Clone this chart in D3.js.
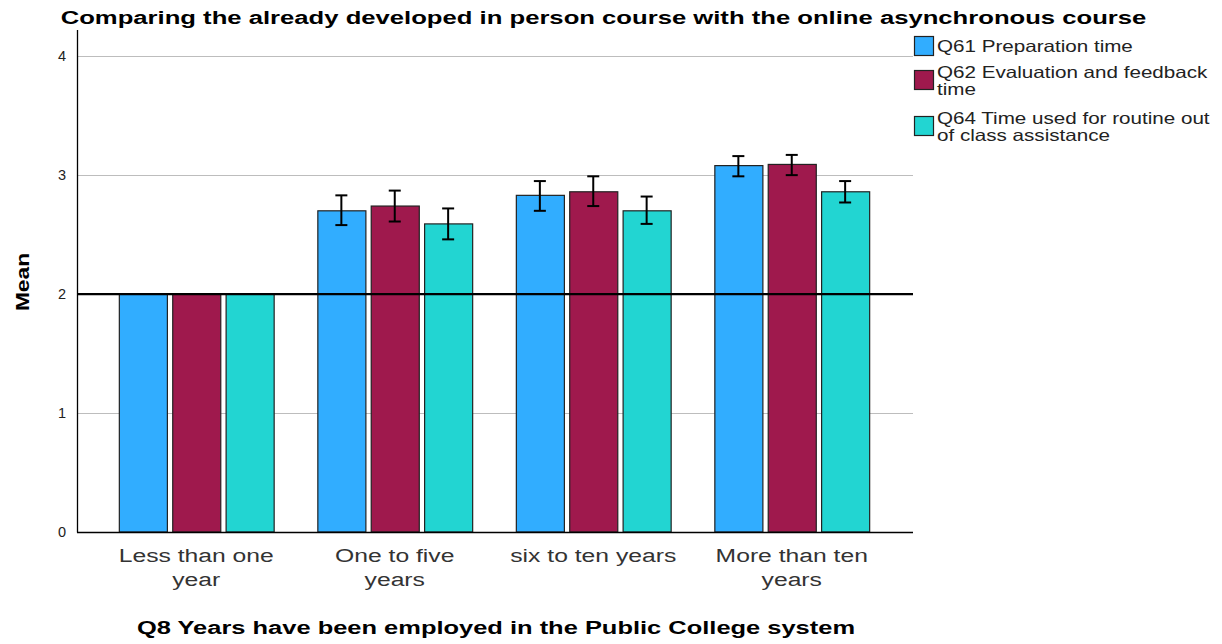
<!DOCTYPE html>
<html>
<head>
<meta charset="utf-8">
<script src="https://cdn.jsdelivr.net/npm/d3@7"></script>
<style>
  body { margin: 0; background: #fff; }
  text { font-family: "Liberation Sans", Arial, sans-serif; }
</style>
</head>
<body>
<svg width="1222" height="644"></svg>
<script>
// data
var categories = [["Less than one", "year"], ["One to five", "years"], ["six to ten years"], ["More than ten", "years"]];
var seriesNames = ["Q61 Preparation time", "Q62 Evaluation and feedback time", "Q64 Time used for routine out of class assistance"];
var legendLines = [["Q61 Preparation time"], ["Q62 Evaluation and feedback", "time"], ["Q64 Time used for routine out", "of class assistance"]];
var colors = ["#31adff", "#9f194d", "#22d5d2"];

var q61 = [2.0, 2.70, 2.83, 3.08];
var q62 = [2.0, 2.74, 2.86, 3.09];
var q64 = [2.0, 2.59, 2.70, 2.86];
var q61Lo = [null, 2.58, 2.70, 2.99], q61Hi = [null, 2.83, 2.95, 3.16];
var q62Lo = [null, 2.61, 2.74, 3.00], q62Hi = [null, 2.87, 2.99, 3.17];
var q64Lo = [null, 2.46, 2.59, 2.77], q64Hi = [null, 2.72, 2.82, 2.95];
var yTicks = [0, 1, 2, 3, 4];
var refValue = 2;

var series = [
  { name: seriesNames[0], values: q61, lo: q61Lo, hi: q61Hi },
  { name: seriesNames[1], values: q62, lo: q62Lo, hi: q62Hi },
  { name: seriesNames[2], values: q64, lo: q64Lo, hi: q64Hi }
];

var svg = d3.select("svg");
var pLeft = 77, pRight = 913, pTop = 30, pBottom = 532;

var y = d3.scaleLinear().domain([0, 4.22]).range([pBottom, pTop]);
var x = d3.scaleBand().domain(d3.range(categories.length)).range([97, 891]).paddingInner(0.22).paddingOuter(0.11);
var xs = d3.scaleBand().domain(d3.range(series.length)).range([0, x.bandwidth()]).paddingInner(0.1);

// text in the original is wider than the font, so stretch it a bit
function wideText(sel, cx, cy, sx, sy) {
  return sel.append("text").attr("transform", "translate(" + cx + "," + cy + ") scale(" + sx + "," + (sy || 1) + ")");
}

// gridlines
svg.append("g").selectAll("line")
  .data(yTicks.filter(function(t) { return t > 0 && t !== refValue; }))
  .enter().append("line")
  .attr("x1", pLeft).attr("x2", pRight)
  .attr("y1", function(d) { return Math.round(y(d)) + 0.5; })
  .attr("y2", function(d) { return Math.round(y(d)) + 0.5; })
  .attr("stroke", "#bdbdbd").attr("stroke-width", 1);

// bars
var groups = svg.append("g").selectAll("g")
  .data(series).enter().append("g");

groups.selectAll("rect")
  .data(function(s, si) { return s.values.map(function(v, i) { return { v: v, i: i, si: si }; }); })
  .enter().append("rect")
  .attr("x", function(d) { return x(d.i) + xs(d.si) + 0.5; })
  .attr("y", function(d) { return y(d.v); })
  .attr("width", xs.bandwidth())
  .attr("height", function(d) { return pBottom - y(d.v); })
  .attr("fill", function(d) { return colors[d.si]; })
  .attr("stroke", "#222").attr("stroke-width", 1.2);

// reference line
svg.append("line")
  .attr("x1", pLeft).attr("x2", pRight)
  .attr("y1", y(refValue)).attr("y2", y(refValue))
  .attr("stroke", "#000").attr("stroke-width", 2.2);

// error bars
var errs = [];
series.forEach(function(s, si) {
  s.values.forEach(function(v, i) {
    if (s.lo[i] != null) errs.push({ cx: x(i) + xs(si) + xs.bandwidth() / 2, lo: s.lo[i], hi: s.hi[i] });
  });
});
var eg = svg.append("g").attr("stroke", "#000").attr("stroke-width", 2);
errs.forEach(function(e) {
  eg.append("line").attr("x1", e.cx).attr("x2", e.cx).attr("y1", y(e.hi)).attr("y2", y(e.lo));
  eg.append("line").attr("x1", e.cx - 6).attr("x2", e.cx + 6).attr("y1", y(e.hi)).attr("y2", y(e.hi));
  eg.append("line").attr("x1", e.cx - 6).attr("x2", e.cx + 6).attr("y1", y(e.lo)).attr("y2", y(e.lo));
});

// axes
var yAxis = svg.append("g").attr("transform", "translate(" + pLeft + ",0)")
  .call(d3.axisLeft(y).tickValues(yTicks).tickSize(0).tickPadding(11).tickFormat(d3.format("d")));
yAxis.select(".domain").remove();
yAxis.selectAll("text").attr("font-size", 14.5).attr("fill", "#222").style("font-family", "'Liberation Sans', Arial, sans-serif");

svg.append("line").attr("x1", pLeft + 0.5).attr("x2", pLeft + 0.5).attr("y1", pTop).attr("y2", pBottom + 0.5)
  .attr("stroke", "#000").attr("stroke-width", 1.3);
svg.append("line").attr("x1", pLeft).attr("x2", pRight).attr("y1", pBottom + 0.5).attr("y2", pBottom + 0.5)
  .attr("stroke", "#000").attr("stroke-width", 1.3);

// category labels
categories.forEach(function(lines, i) {
  var t = wideText(svg, x(i) + x.bandwidth() / 2, 562, 1.3)
    .attr("text-anchor", "middle").attr("font-size", 19).attr("fill", "#333");
  lines.forEach(function(s, k) {
    t.append("tspan").attr("x", 0).attr("y", k * 24).text(s);
  });
});

// titles
wideText(svg, 603.5, 24, 1.35).attr("text-anchor", "middle")
  .attr("font-size", 19).attr("font-weight", "bold")
  .text("Comparing the already developed in person course with the online asynchronous course");
wideText(svg, 496, 634, 1.34).attr("text-anchor", "middle")
  .attr("font-size", 19).attr("font-weight", "bold")
  .text("Q8 Years have been employed in the Public College system");
svg.append("text").attr("transform", "translate(29,282) rotate(-90) scale(1.2,1)").attr("text-anchor", "middle")
  .attr("font-size", 19).attr("font-weight", "bold").text("Mean");

// legend
var legTop = [36, 62, 108];
var lg = svg.append("g").selectAll("g").data(legendLines).enter().append("g")
  .attr("transform", function(d, i) { return "translate(914," + legTop[i] + ")"; });
lg.append("rect").attr("x", 0.5).attr("y", function(d) { return d.length > 1 ? 8.5 : 0.5; })
  .attr("width", 19).attr("height", 19)
  .attr("fill", function(d, i) { return colors[i]; })
  .attr("stroke", "#222").attr("stroke-width", 1.2);
lg.append("text").attr("font-size", 16.5).attr("fill", "#222")
  .attr("transform", "translate(23,0) scale(1.25,1)")
  .selectAll("tspan").data(function(d) { return d; }).enter().append("tspan")
  .attr("x", 0).attr("y", function(d, i) { return 16 + i * 17; })
  .text(function(d) { return d; });
</script>
</body>
</html>
